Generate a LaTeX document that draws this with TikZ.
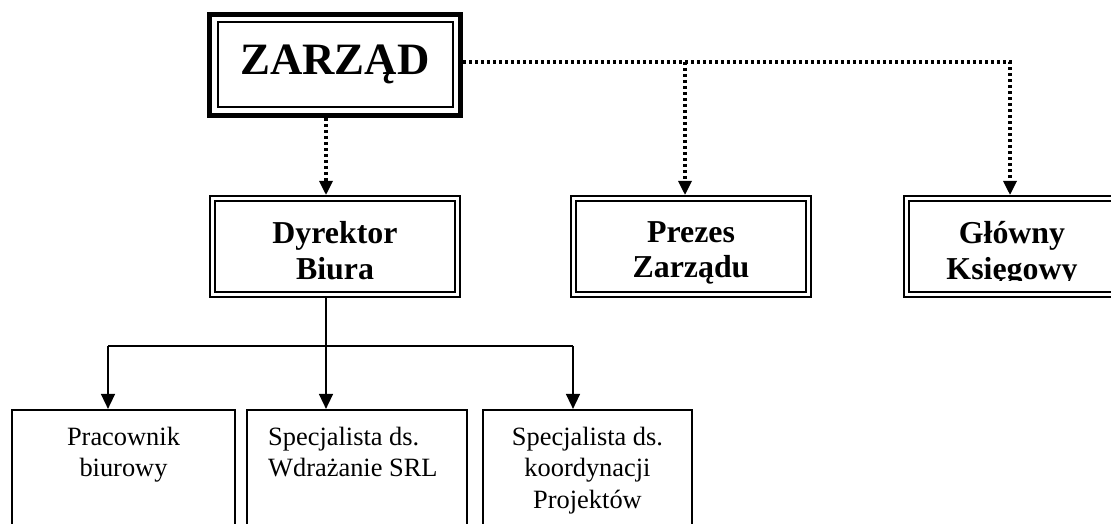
\documentclass[tikz,border=0pt]{standalone}
\usepackage{fontspec}
\setmainfont{Liberation Serif}
\usetikzlibrary{arrows.meta}
\begin{document}
\begin{tikzpicture}[x=1bp,y=-1bp,
  dotln/.style={line width=3.2bp, dash pattern=on 3bp off 3bp, -{Triangle[length=14bp,width=13bp]}},
  solidln/.style={line width=1.5bp},
  arr/.style={solidln, -{Triangle[length=15bp,width=14bp]}},
  dbox/.style={draw, line width=2bp, double, double distance=3bp, outer sep=3.5bp, inner sep=0pt, minimum height=96bp},
  btext/.style={inner sep=0pt, anchor=north, align=center, font=\fontsize{32}{36}\selectfont\bfseries},
  sbox/.style={draw, line width=2.2bp, inner sep=0pt, outer sep=1.1bp, minimum height=150bp},
  stext/.style={inner sep=0pt, anchor=north, font=\fontsize{26.5}{31.5}\selectfont}
]
\useasboundingbox (0,0) rectangle (1111,524);
\clip (0,0) rectangle (1111,524);

% ZARZAD
\node[draw, line width=5bp, minimum width=251bp, minimum height=101bp, inner sep=0pt, outer sep=2.5bp] (z) at (335,65) {};
\draw[line width=2bp] ([xshift=10.5bp,yshift=-10.5bp]z.north west) rectangle ([xshift=-10.5bp,yshift=10.5bp]z.south east);
\node[inner sep=0pt, anchor=base, font=\fontsize{45}{50}\selectfont\bfseries] (zt) at (335,75) {ZARZĄD};

% second level
\node[dbox, minimum width=245bp] (dy) at (335,246.5) {};
\node[btext] (dyt) at (335,221) {Dyrektor\\Biura};
\node[dbox, minimum width=235bp] (pr) at (691,246.5) {};
\node[btext] (prt) at (691,221) {Prezes\\Zarządu};
\node[dbox, minimum width=211bp] (gl) at (1012,246.5) {};
\begin{scope}
\clip (903,200) rectangle (1111,281);
\node[btext] (glt) at (1012,221) {Główny\\Księgowy};
\end{scope}

% third level
\node[sbox, minimum width=223bp] (b1) at (123.5,485) {};
\node[stext, align=center] (t1) at (123.5,427) {Pracownik\\biurowy};
\node[sbox, minimum width=220bp] (b2) at (357,485) {};
\node[stext, anchor=north west, align=left] (t2) at (268,427) {Specjalista ds.\\Wdrażanie SRL};
\node[sbox, minimum width=209bp] (b3) at (587.5,485) {};
\node[stext, align=center] (t3) at (587.5,427) {Specjalista ds.\\koordynacji\\Projektów};

% dotted connectors
\coordinate (zr) at ([yshift=3bp]z.east);
\coordinate (prn) at ([xshift=-6bp]pr.north);
\coordinate (gln) at ([xshift=-2bp]gl.north);
\coordinate (zs) at ([xshift=-9bp]z.south);
\coordinate (dyn) at ([xshift=-9bp]dy.north);
\draw[dotln] (zr) -| (gln);
\draw[dotln] (zr -| prn) -- (prn);
\draw[dotln] (zs) -- (dyn);

% solid connectors
\coordinate (dys) at ([xshift=-9bp]dy.south);
\coordinate (bl) at (108,346);
\coordinate (br) at (573,346);
\draw[solidln] (bl) -- (br);
\draw[arr] (dys) -- (dys |- b2.north);
\draw[arr] (bl) -- (bl |- b1.north);
\draw[arr] (br) -- (br |- b3.north);
\end{tikzpicture}
\end{document}
